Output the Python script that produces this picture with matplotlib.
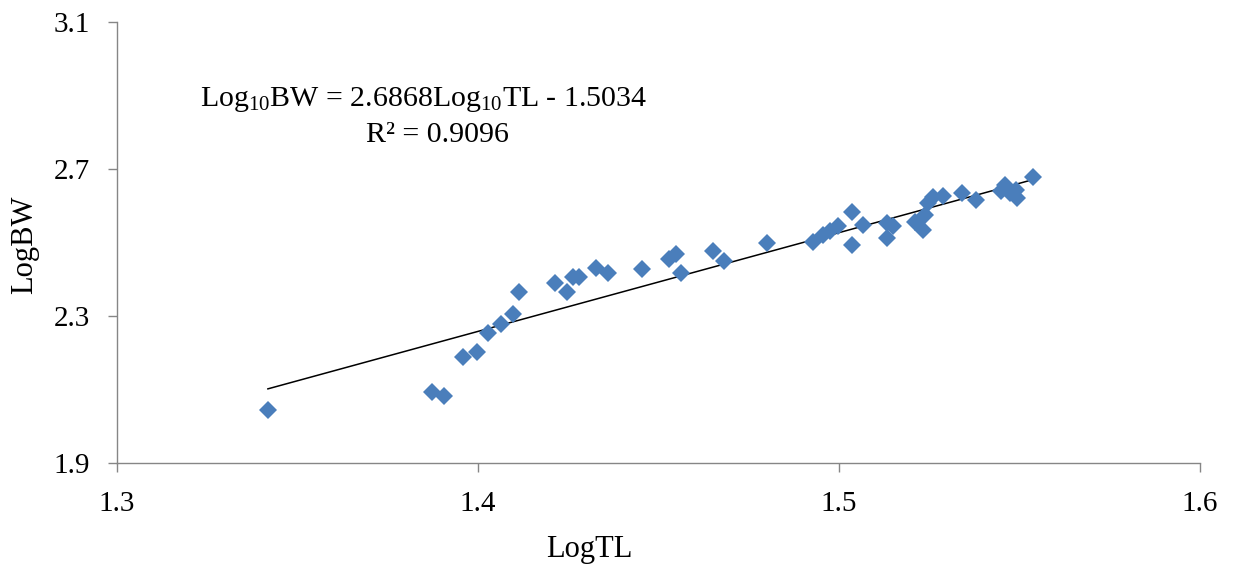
import matplotlib
matplotlib.use("Agg")
import matplotlib.pyplot as plt
import numpy as np

plt.rcParams['font.family'] = ['Liberation Serif', 'DejaVu Serif']
plt.rcParams['mathtext.fontset'] = 'custom'
plt.rcParams['mathtext.rm'] = 'Liberation Serif'
plt.rcParams['mathtext.it'] = 'Liberation Serif:italic'

log_tl = [1.3418, 1.3873, 1.3906, 1.3958, 1.3997, 1.4028, 1.4064, 1.4097, 1.4114,
          1.4213, 1.4247, 1.4263, 1.4280, 1.4327, 1.4360, 1.4454, 1.4529, 1.4548,
          1.4562, 1.4651, 1.4681, 1.4801, 1.4928, 1.4956, 1.4975, 1.4997, 1.5036,
          1.5036, 1.5066, 1.5133, 1.5150, 1.5133, 1.5211, 1.5233, 1.5238, 1.5247,
          1.5260, 1.5288, 1.5341, 1.5380, 1.5460, 1.5449, 1.5474, 1.5490, 1.5493,
          1.5537]
log_bw = [2.0442, 2.0932, 2.0823, 2.1884, 2.2020, 2.2537, 2.2782, 2.3054, 2.3653,
          2.3898, 2.3653, 2.4061, 2.4061, 2.4306, 2.4170, 2.4279, 2.4551, 2.4687,
          2.4170, 2.4769, 2.4497, 2.4986, 2.5014, 2.5204, 2.5313, 2.5449, 2.5830,
          2.4932, 2.5476, 2.5531, 2.5449, 2.5122, 2.5558, 2.5340, 2.5749, 2.6075,
          2.6238, 2.6265, 2.6347, 2.6156, 2.6565, 2.6401, 2.6347, 2.6429, 2.6211,
          2.6782]

slope = 2.6868
intercept = -1.5034

x_ticks = [1.3, 1.4, 1.5, 1.6]
y_ticks = [1.9, 2.3, 2.7, 3.1]

W, H = 1235, 567
fig = plt.figure(figsize=(W / 100, H / 100), dpi=100)
ax = fig.add_axes([117 / W, 1 - 463 / H, (1200 - 117) / W, (463 - 22) / H])

x_line = np.array([min(log_tl), max(log_tl)])
ax.plot(x_line, slope * x_line + intercept, color='black', lw=1.1, zorder=2)
ax.plot(log_tl, log_bw, linestyle='none', marker='D', markersize=9,
        color='#4A7EBB', markeredgewidth=0, zorder=3)

ax.set_xlim(1.3, 1.6)
ax.set_ylim(1.9, 3.1)
ax.set_xticks(x_ticks)
ax.set_yticks(y_ticks)
ax.set_xticklabels([f"{v:.1f}" for v in x_ticks])
ax.set_yticklabels([f"{v:.1f}" for v in y_ticks])

for s in ['top', 'right']:
    ax.spines[s].set_visible(False)
for s in ['left', 'bottom']:
    ax.spines[s].set_color('#868686')
    ax.spines[s].set_linewidth(1.0)
ax.tick_params(axis='both', direction='out', length=6.5, width=1.0, color='#868686',
               labelsize=21, labelcolor='black')
ax.tick_params(axis='x', pad=14)
ax.tick_params(axis='y', pad=13)

ax.set_xlabel('LogTL', fontsize=22)
ax.set_ylabel('LogBW', fontsize=22)
ax.xaxis.set_label_coords((589 - 117) / 1083, -(550 - 463) / 441)
ax.yaxis.set_label_coords((25 - 117) / 1083, (463 - 245) / 441)
ax.xaxis.label.set_va('center')
ax.yaxis.label.set_va('center')

fig.text(200 / W, 1 - 100 / H, 'Log$_{10}$BW = 2.6868Log$_{10}$TL - 1.5034',
         fontsize=21.5, ha='left', va='center')
fig.text(437 / W, 1 - 135 / H, 'R² = 0.9096', fontsize=21.5, ha='center', va='center')

fig.savefig('out.png', dpi=100)
